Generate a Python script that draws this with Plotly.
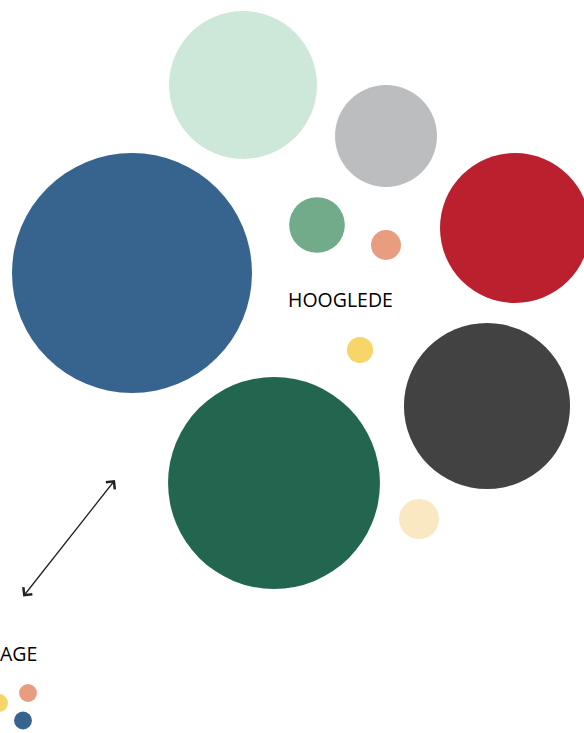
import math
import plotly.graph_objects as go

# Packed-bubble layout (cluster "HOOGLEDE" and a second cluster at the bottom-left)
series = ["a", "b", "c", "d", "e", "f", "g", "h", "i", "j"]
values = [576, 449, 276, 225, 219, 104, 31, 16, 9, 6.8]
pos_x = [132, 274, 487, 515, 243, 386, 317, 419, 386, 360]
pos_y = [273, 483, 406, 228, 85, 136, 225, 519, 245, 350]
colors = ["#36648e", "#22664f", "#424242", "#bb202f", "#cde8d8",
          "#bcbdbf", "#72ab89", "#f9e8c2", "#e89d80", "#f8d568"]

avg_values = [3.2, 3.2, 3.2]
avg_x = [-1, 28, 23]
avg_y = [703, 693, 720.5]
avg_colors = ["#f8d568", "#e89d80", "#36648e"]

labels = ["HOOGLEDE", "AGE"]

def diam(v):
    return 10 * math.sqrt(v)

fig = go.Figure()
fig.add_trace(go.Scatter(
    x=pos_x, y=pos_y, mode="markers", text=series, hoverinfo="text",
    marker=dict(size=[diam(v) for v in values], sizemode="diameter", sizeref=1,
                color=colors, opacity=1, line=dict(width=0)),
    showlegend=False,
))
fig.add_trace(go.Scatter(
    x=avg_x, y=avg_y, mode="markers", hoverinfo="skip",
    marker=dict(size=[diam(v) for v in avg_values], sizemode="diameter", sizeref=1,
                color=avg_colors, opacity=1, line=dict(width=0)),
    showlegend=False,
))

font = dict(family="Open Sans, Noto Sans, sans-serif", size=19.5, color="#000000")
fig.add_annotation(x=340, y=299.5, text=labels[0], showarrow=False, font=font,
                   xanchor="center", yanchor="middle")
fig.add_annotation(x=0, y=653.5, xshift=-2, text=labels[1], showarrow=False, font=font,
                   xanchor="left", yanchor="middle")

fig.add_annotation(x=115, y=480, ax=22, ay=598, xref="x", yref="y", axref="x", ayref="y",
                   text="", showarrow=True, arrowhead=4, startarrowhead=4,
                   arrowside="end+start", arrowsize=1.7, startarrowsize=1.7,
                   arrowwidth=1.3, arrowcolor="#222222")

fig.update_layout(
    width=584, height=733,
    margin=dict(l=0, r=0, t=0, b=0),
    paper_bgcolor="white", plot_bgcolor="white",
    xaxis=dict(range=[0, 584], visible=False, fixedrange=True),
    yaxis=dict(range=[733, 0], visible=False, fixedrange=True),
)
fig.write_html("out.html", config={"displayModeBar": False},
               post_script="document.body.style.margin='0';")
